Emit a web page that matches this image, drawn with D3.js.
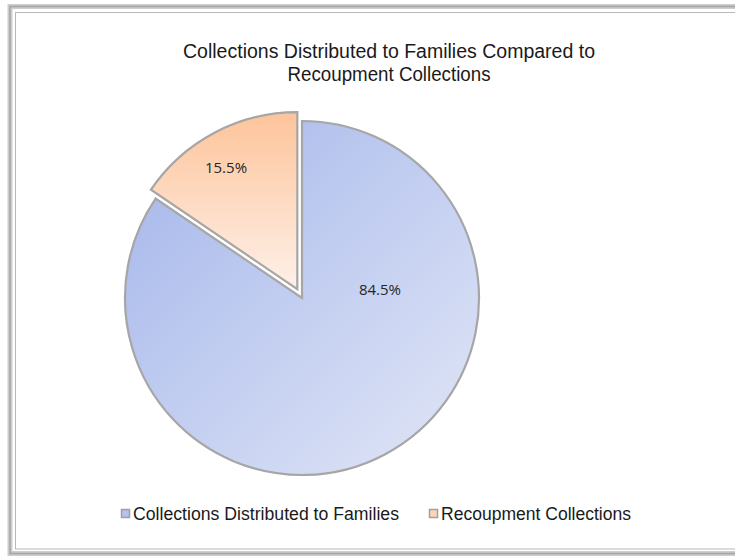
<!DOCTYPE html>
<html><head><meta charset="utf-8">
<script src="https://cdn.jsdelivr.net/npm/d3@7/dist/d3.min.js"></script>
<style>body{margin:0;background:#fff}svg{display:block}</style>
</head><body>
<svg id="c" width="735" height="556"></svg>
<script>
const categories = ["Collections Distributed to Families", "Recoupment Collections"];
const values = [84.5, 15.5];
const labels = ["84.5%", "15.5%"];
const titleLines = ["Collections Distributed to Families Compared to", "Recoupment Collections"];

const svg = d3.select("#c");
// frame
svg.append("rect").attr("x",10).attr("y",6.5).attr("width",740).attr("height",547).attr("fill","none").attr("stroke","#cdcdcd").attr("stroke-width",5);
svg.append("rect").attr("x",10).attr("y",6.5).attr("width",740).attr("height",547).attr("fill","none").attr("stroke","#a4a4a4").attr("stroke-width",1.5);
svg.append("rect").attr("x",15.5).attr("y",12.5).attr("width",740).attr("height",536.5).attr("fill","none").attr("stroke","#b8b8b8").attr("stroke-width",1);

const defs = svg.append("defs");
const g1 = defs.append("linearGradient").attr("id","gb").attr("x1","0").attr("y1","0").attr("x2","1").attr("y2","1");
g1.append("stop").attr("offset","0%").attr("stop-color","#a3b5ea");
g1.append("stop").attr("offset","100%").attr("stop-color","#e2e7f7");
const g2 = defs.append("linearGradient").attr("id","go").attr("x1","0").attr("y1","0").attr("x2","0").attr("y2","1");
g2.append("stop").attr("offset","0%").attr("stop-color","#fdc49b");
g2.append("stop").attr("offset","100%").attr("stop-color","#fef0e8");
const fills = ["url(#gb)","url(#go)"];
const swatch = ["#b4c2ee","#fcd4b8"];

// title
const t = svg.append("text").attr("text-anchor","middle").attr("font-family","'Liberation Sans', Arial, sans-serif").attr("font-size",19.5).attr("fill","#1a1a1a");
const tw = [412, 203];
titleLines.forEach((s,i)=>t.append("tspan").attr("x",389).attr("y",58+i*23).attr("textLength",tw[i]).attr("lengthAdjust","spacingAndGlyphs").text(s));

const cx = 302, cy = 298, R = 177, explode = 10;
const pie = d3.pie().sort(null).value(d=>d)(values);
const arc = d3.arc().innerRadius(0).outerRadius(R);
const g = svg.append("g").attr("transform",`translate(${cx},${cy})`);
pie.forEach((p,i)=>{
  let dx=0, dy=0;
  if(i===1){ const a=(p.startAngle+p.endAngle)/2; dx=Math.sin(a)*explode; dy=-Math.cos(a)*explode; }
  const sg = g.append("g").attr("transform",`translate(${dx},${dy})`);
  sg.append("path").attr("d",arc(p)).attr("fill",fills[i]).attr("stroke","#a6a6a6").attr("stroke-width",2.2).attr("stroke-linejoin","miter");
});
const labPos = [[78,-3],[-76,-125]];
pie.forEach((p,i)=>{
  g.append("text").attr("x",labPos[i][0]).attr("y",labPos[i][1]).attr("text-anchor","middle")
   .attr("font-family","'Open Sans', 'Noto Sans', sans-serif").attr("font-size",15).attr("fill","#262626").text(labels[i]);
});

// legend
const lx = [121, 429];
const lw = [266, 190];
categories.forEach((c,i)=>{
  svg.append("rect").attr("x",lx[i]+0.5).attr("y",509.5).attr("width",8).attr("height",8).attr("fill",swatch[i]).attr("stroke","#a0a0a0").attr("stroke-width",1.5);
  svg.append("text").attr("x",lx[i]+12).attr("y",520).attr("font-family","'Liberation Sans', Arial, sans-serif").attr("font-size",17.5).attr("fill","#1a1a1a")
    .attr("textLength",lw[i]).attr("lengthAdjust","spacingAndGlyphs").text(c);
});
</script>
</body></html>
